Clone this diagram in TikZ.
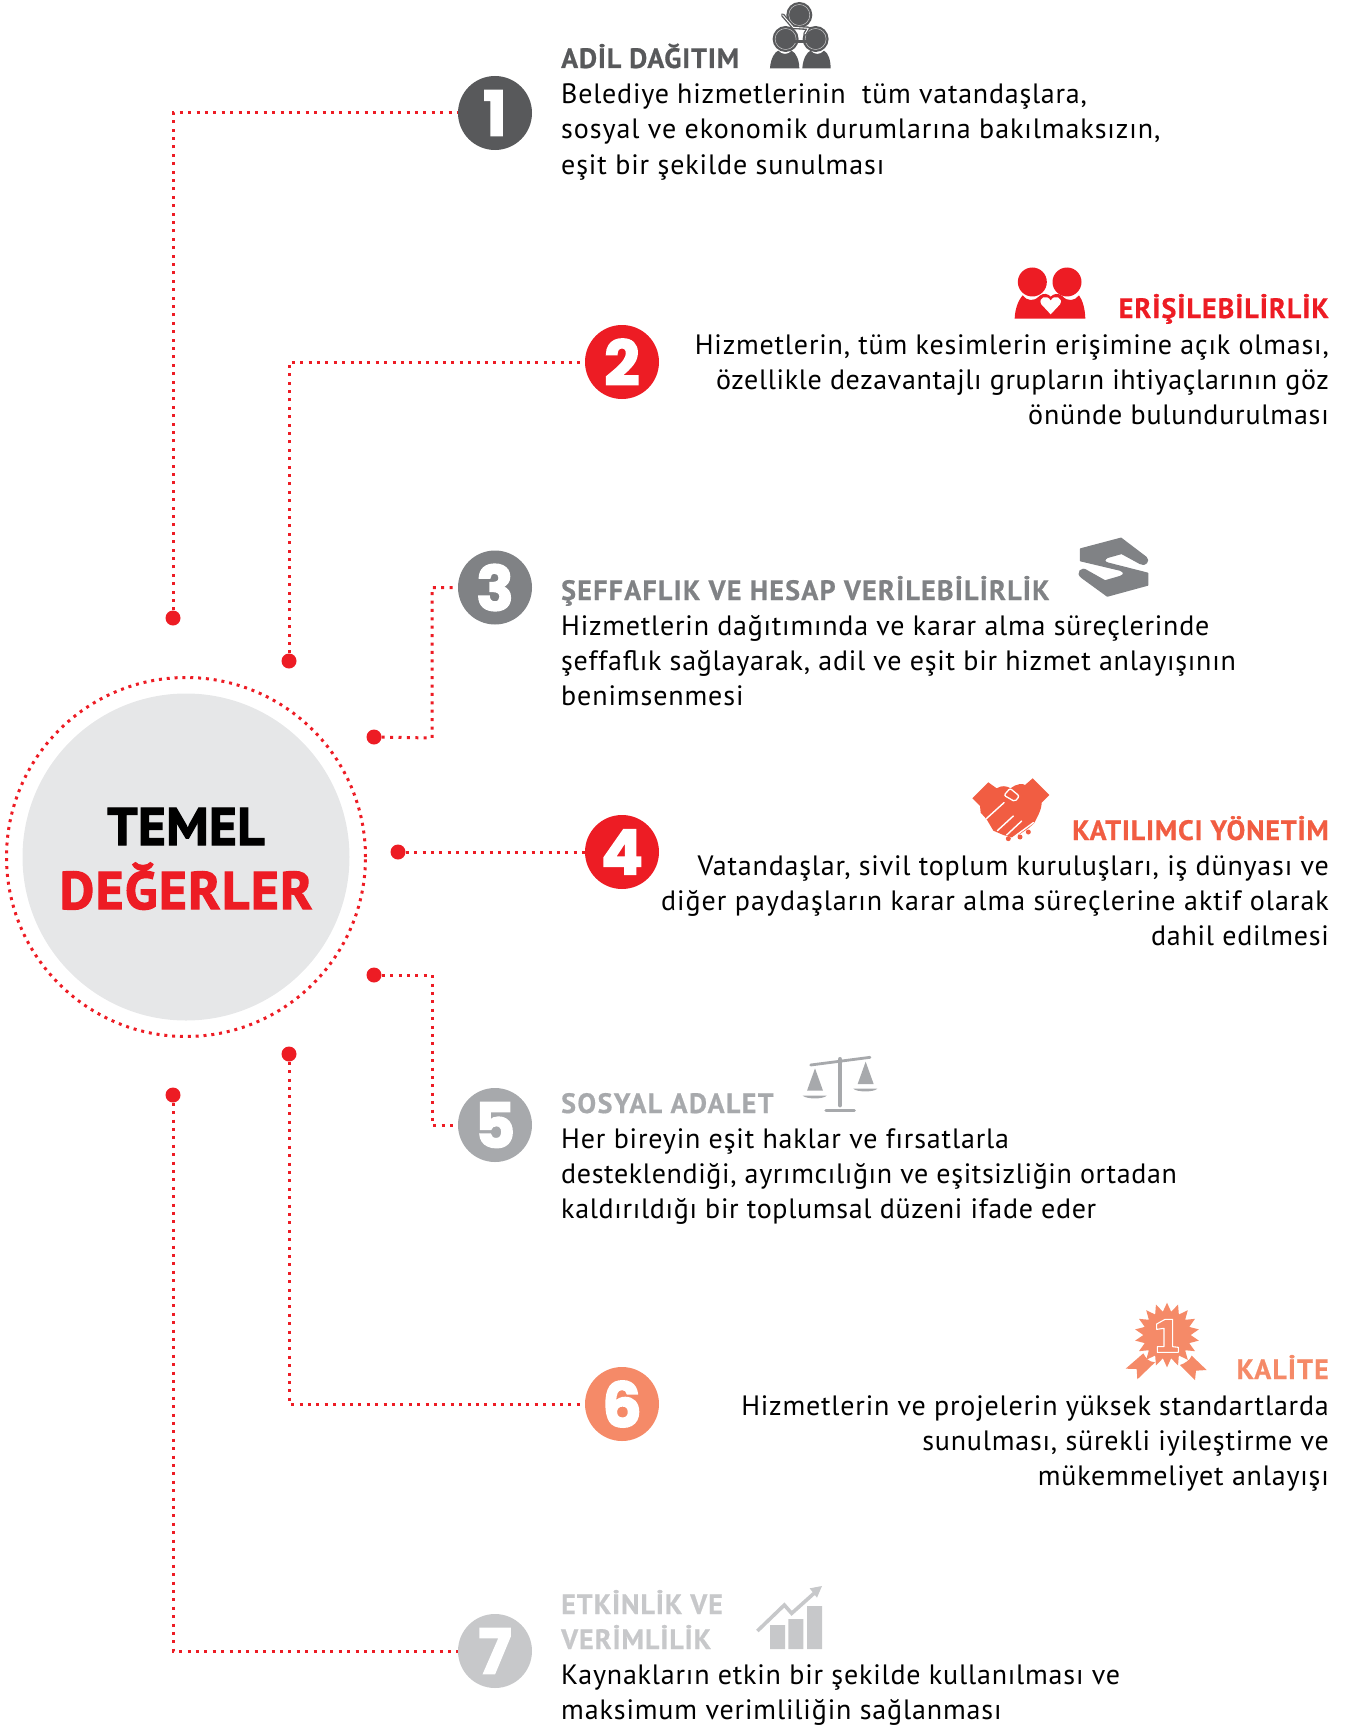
\documentclass[tikz,border=0pt]{standalone}
\usepackage{fontspec}
\setmainfont[LetterSpace=2.9]{PT Sans}
\newfontfamily\headfont[LetterSpace=3.6,FakeBold=0.6]{PT Sans}
\newfontfamily\numfont[FakeBold=2.5]{Poppins}
\newfontfamily\titlefont[FakeBold=2.4,LetterSpace=1]{PT Sans}
\newfontfamily\titlefontB[FakeBold=2.4,LetterSpace=3.2]{PT Sans}
\newcommand{\lsp}[2]{{\addfontfeature{LetterSpace=#1}#2}}
\definecolor{cred}{HTML}{ED1C24}
\definecolor{cA}{HTML}{58595B}
\definecolor{cC}{HTML}{808285}
\definecolor{cD}{HTML}{F15D42}
\definecolor{cE}{HTML}{A7A9AC}
\definecolor{cF}{HTML}{F58A68}
\definecolor{cG}{HTML}{C7C8CA}
\definecolor{disc}{HTML}{E6E7E8}
\tikzset{
  x=1pt,y=-1pt,
  conn/.style={draw=cred,line width=3pt,dash pattern=on 3pt off 5.4pt},
  enddot/.style={circle,fill=cred,draw=none,minimum size=15pt,inner sep=0pt},
  badge/.style={circle,minimum size=74pt,inner sep=0pt,text=white,font=\numfont\bfseries\fontsize{62}{62}\selectfont},
  bodyL/.style={anchor=base west,inner sep=0pt,text=black,font=\fontsize{28}{35}\selectfont},
  bodyR/.style={anchor=base east,inner sep=0pt,text=black,font=\fontsize{28}{35}\selectfont},
  headL/.style={anchor=base west,inner sep=0pt,font=\headfont\bfseries\fontsize{28}{35}\selectfont},
  headR/.style={anchor=base east,inner sep=0pt,font=\headfont\bfseries\fontsize{28}{35}\selectfont},
  title/.style={anchor=base,inner sep=0pt},
}
\begin{document}
\begin{tikzpicture}
\useasboundingbox (0,0) rectangle (1348,1726);
% central disc
\node[circle,fill=disc,minimum size=327pt,inner sep=0pt] (disc) at (186,857) {};
\draw[cred,line width=3pt,dash pattern=on 3pt off 4.85pt] (186,857) circle[radius=179.5pt];
\node[title,text=black,font=\titlefont\bfseries\fontsize{53}{60}\selectfont] (t1) at (186,845) {TEMEL};
\node[title,text=cred,font=\titlefontB\bfseries\fontsize{53}{60}\selectfont] (t2) at (186,909) {DEĞERLER};
% end dots
\node[enddot] (d1) at (173,618) {};
\node[enddot] (d2) at (289,661) {};
\node[enddot] (d3) at (374,737) {};
\node[enddot] (d4) at (398,852) {};
\node[enddot] (d5) at (374,975) {};
\node[enddot] (d6) at (289,1054) {};
\node[enddot] (d7) at (173,1095) {};
% numbered badges
\node[badge,fill=cA] (c1) at (495,113) {1};
\node[badge,fill=cred] (c2) at (622,362) {2};
\node[badge,fill=cC] (c3) at (495,587.5) {3};
\node[badge,fill=cred] (c4) at (622,852) {4};
\node[badge,fill=cE] (c5) at (495,1125) {5};
\node[badge,fill=cF] (c6) at (622,1404) {6};
\node[badge,fill=cG] (c7) at (495,1651) {7};
% connectors
\coordinate (j3) at (432,738);
\coordinate (j5) at (432,975);
\draw[conn] (d1) |- (c1);
\draw[conn] (d2) |- (c2);
\draw[conn] (d3) -- (j3) |- (c3);
\draw[conn] (d4) -- (c4);
\draw[conn] (d5) -- (j5) |- (c5);
\draw[conn] (d6) |- (c6);
\draw[conn] (d7) |- (c7);
% section 1
\node[headL,text=cA] (h1) at (561,68) {\lsp{3.1}{ADİL DAĞITIM}};
\node[bodyL] (b11) at (561,104) {\lsp{2.7}{Belediye hizmetlerinin\ \ tüm vatandaşlara,}};
\node[bodyL] (b12) at (561,139) {\lsp{3.3}{sosyal ve ekonomik durumlarına bakılmaksızın,}};
\node[bodyL] (b13) at (561,174) {\lsp{3.2}{eşit bir şekilde sunulması}};
% section 2
\node[headR,text=cred] (h2) at (1329,318) {\lsp{3.9}{ERİŞİLEBİLİRLİK}};
\node[bodyR] (b21) at (1329,354) {Hizmetlerin, tüm kesimlerin erişimine açık olması,};
\node[bodyR] (b22) at (1329,389) {\lsp{2.3}{özellikle dezavantajlı grupların ihtiyaçlarının göz}};
\node[bodyR] (b23) at (1329,424) {önünde bulundurulması};
% section 3
\node[headL,text=cC] (h3) at (561,600) {\lsp{4.6}{ŞEFFAFLIK VE HESAP VERİLEBİLİRLİK}};
\node[bodyL] (b31) at (561,635) {\lsp{2.8}{Hizmetlerin dağıtımında ve karar alma süreçlerinde}};
\node[bodyL] (b32) at (561,670) {\lsp{2.7}{şeffaflık sağlayarak, adil ve eşit bir hizmet anlayışının}};
\node[bodyL] (b33) at (561,705) {\lsp{3.2}{benimsenmesi}};
% section 4
\node[headR,text=cD] (h4) at (1329,840) {\lsp{3.0}{KATILIMCI YÖNETİM}};
\node[bodyR] (b41) at (1329,875) {Vatandaşlar, sivil toplum kuruluşları, iş dünyası ve};
\node[bodyR] (b42) at (1329,910) {\lsp{3.6}{diğer paydaşların karar alma süreçlerine aktif olarak}};
\node[bodyR] (b43) at (1329,945) {\lsp{2.7}{dahil edilmesi}};
% section 5
\node[headL,text=cE] (h5) at (561,1113) {\lsp{5.0}{SOSYAL ADALET}};
\node[bodyL] (b51) at (561,1148) {\lsp{3.0}{Her bireyin eşit haklar ve fırsatlarla}};
\node[bodyL] (b52) at (561,1183) {\lsp{2.3}{desteklendiği, ayrımcılığın ve eşitsizliğin ortadan}};
\node[bodyL] (b53) at (561,1218) {\lsp{2.45}{kaldırıldığı bir toplumsal düzeni ifade eder}};
% section 6
\node[headR,text=cF] (h6) at (1329,1379) {\lsp{4.2}{KALİTE}};
\node[bodyR] (b61) at (1329,1415) {Hizmetlerin ve projelerin yüksek standartlarda};
\node[bodyR] (b62) at (1329,1450) {sunulması, sürekli iyileştirme ve};
\node[bodyR] (b63) at (1329,1485) {mükemmeliyet anlayışı};
% section 7
\node[headL,text=cG] (h7a) at (561,1614) {ETKİNLİK VE};
\node[headL,text=cG] (h7b) at (561,1649) {VERİMLİLİK};
\node[bodyL] (b71) at (561,1684) {Kaynakların etkin bir şekilde kullanılması ve};
\node[bodyL] (b72) at (561,1719) {\lsp{3.1}{maksimum verimliliğin sağlanması}};
% icon 1
\begin{scope}[shift={(440,0)},x=0.3333pt,y=-0.3333pt]
\fill[cA] (1078,45) circle[radius=13pt] (1037,117) circle[radius=13pt] (1127,117) circle[radius=13pt];
\draw[white!70!cA,line width=0.5pt] (1078,45) circle[radius=10.5pt] (1037,117) circle[radius=10.5pt] (1127,117) circle[radius=10.5pt];
\draw[cA,line width=3.6pt,line cap=round,line join=round] (1028,45) -- (1060,82) -- (1105,85) -- (1095,102);
\draw[white,line width=0.9pt,line cap=round,line join=round] (1028,45) -- (1060,82) -- (1105,85) -- (1095,102);
\draw[cA,line width=3pt] (1065,124) -- (1100,124);
\fill[cA] (990,205) .. controls (992,175) and (1005,155) .. (1015,152) .. controls (1025,165) and (1045,165) .. (1055,152) .. controls (1068,158) and (1078,180) .. (1078,205) -- cycle;
\fill[cA] (1087,205) .. controls (1089,175) and (1102,155) .. (1112,152) .. controls (1122,165) and (1142,165) .. (1152,152) .. controls (1165,158) and (1172,180) .. (1172,205) -- cycle;
\end{scope}
% icon 2
\begin{scope}[shift={(1010,262)},x=0.3333pt,y=-0.3333pt]
\fill[cred] (14,170) .. controls (15,140) and (25,115) .. (38,100) .. controls (50,117) and (72,120) .. (88,102) .. controls (100,92) and (115,95) .. (122,104) .. controls (130,95) and (145,92) .. (157,102) .. controls (172,120) and (195,117) .. (207,100) .. controls (218,115) and (225,140) .. (226,170) -- cycle;
\fill[cred] (67,60) circle[radius=14.5pt] (171,60) circle[radius=14.5pt];
\fill[white] (122,157) -- (94,127) .. controls (82,107) and (112,95) .. (122,116) .. controls (132,95) and (162,107) .. (150,127) -- cycle;
\end{scope}
% icon 3
\begin{scope}[shift={(1040,520)},x=0.3333pt,y=-0.3333pt]
\fill[cC,draw=cC,line width=1.5pt,line join=round] (122,87) -- (243,55) -- (318,112) .. controls (330,122) and (315,140) .. (300,130) -- (245,100) -- (202,112) .. controls (190,118) and (192,128) .. (205,130) -- (323,160) -- (323,195) -- (202,228) -- (125,172) .. controls (108,160) and (125,140) .. (140,152) -- (195,183) -- (240,170) .. controls (255,165) and (255,155) .. (240,150) -- (122,122) -- cycle;
\end{scope}
% icon 4
\begin{scope}[shift={(960,760)},x=0.3333pt,y=-0.3333pt]
\fill[cD] (37,115) -- (85,67) -- (110,85) .. controls (125,75) and (140,78) .. (152,85) .. controls (170,70) and (190,70) .. (195,75) -- (218,55) -- (268,105) -- (245,128) .. controls (245,150) and (230,175) .. (222,190) -- (205,205) -- (180,222) -- (155,232) -- (130,225) -- (100,212) -- (80,178) -- (62,158) -- (60,138) -- cycle;
\fill[cD] (145,236) circle[radius=2.5pt] (180,231) circle[radius=2.5pt] (205,216) circle[radius=2.5pt];
\draw[white,line width=1.4pt,line cap=round] (132,128) -- (80,175) (160,168) -- (112,212) (185,183) -- (140,225) (220,188) -- (160,232);
\draw[white,line width=1.3pt,rounded corners=2pt] (132,106) -- (150,85) -- (178,108) -- (165,125) -- cycle;
\end{scope}
% icon 5
\begin{scope}[shift={(790,1040)},x=0.3333pt,y=-0.3333pt]
\draw[cE,line width=2.8pt,line cap=round] (62,75) -- (240,52);
\draw[cE,line width=4.8pt,line cap=round] (150,58) -- (150,195);
\draw[cE,line width=3.2pt,line cap=round] (108,212) -- (193,212);
\fill[cE] (75,85) -- (51,152) -- (99,152) -- cycle (227,65) -- (203,132) -- (251,132) -- cycle;
\fill[cE] (38,167) -- (110,167) .. controls (100,178) and (50,178) .. (38,167) -- cycle (190,146) -- (262,146) .. controls (252,157) and (200,157) .. (190,146) -- cycle;
\end{scope}
% icon 6
\begin{scope}[shift={(1120,1300)},x=0.3333pt,y=-0.3333pt]
\fill[cF] (17,206) -- (70,160) .. controls (78,175) and (85,185) .. (105,187) -- (52,238) -- (50,207) -- cycle;
\fill[cF] (215,167) -- (260,210) -- (228,212) -- (225,240) -- (180,195) .. controls (195,190) and (210,180) .. (215,167) -- cycle;
\fill[cF] plot[samples at={0,...,35}] ({141+(84+13*(1-2*mod(\x,2)))*cos(\x*10-90)},{105+(84+13*(1-2*mod(\x,2)))*sin(\x*10-90)}) -- cycle;
\draw[white,line width=1.1pt,line join=round] (110,72) -- (135,58) -- (158,58) -- (158,140) -- (175,142) -- (175,157) -- (112,157) -- (112,140) -- (132,140) -- (132,85) -- (110,88) -- cycle;
\end{scope}
% icon 7
\begin{scope}[shift={(740,1575)},x=0.3333pt,y=-0.3333pt]
\fill[cG] (90,150) rectangle (135,222) (145,132) rectangle (190,222) (201,93) rectangle (246,222);
\draw[cG,line width=3.6pt,line join=miter] (52,168) -- (133,90) -- (155,115) -- (222,55);
\fill[cG] (209,40) -- (246,33) -- (231,68) -- cycle;
\end{scope}
\end{tikzpicture}
\end{document}
